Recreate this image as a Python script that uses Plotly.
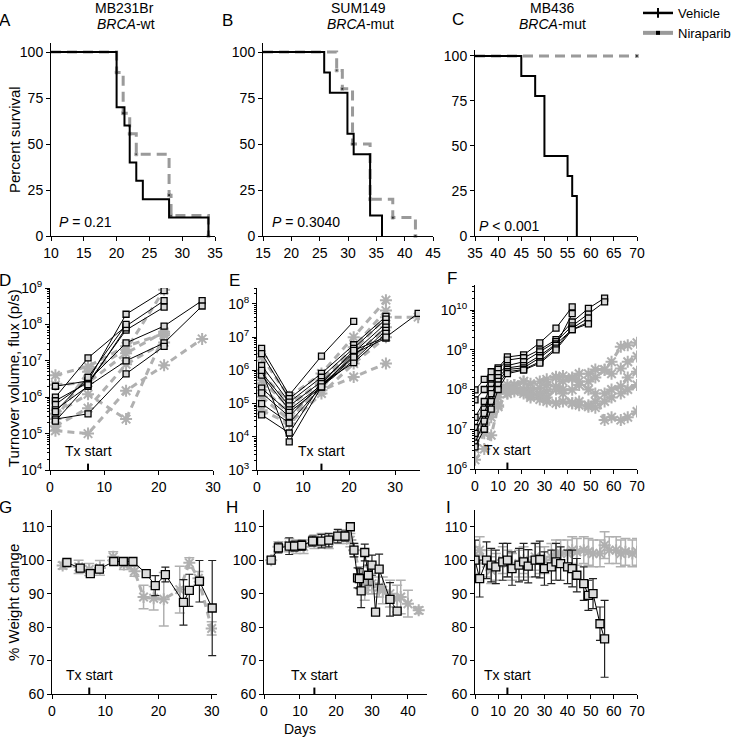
import plotly.graph_objects as go

FONT = "Liberation Sans, Arial, Helvetica, sans-serif"
W, H = 734, 737
GREY = "#9a9a9a"
GREY_L = "#b0b0b0"


def px(p):
    return p / W


def py(p):
    return 1 - p / H


# ---------------- tick labels ----------------
km_yticks = [0, 25, 50, 75, 100]
A_xticks = [10, 15, 20, 25, 30, 35]
B_xticks = [15, 20, 25, 30, 35, 40, 45]
C_xticks = [35, 40, 45, 50, 55, 60, 65, 70]
D_yticks = [1e4, 1e5, 1e6, 1e7, 1e8, 1e9]
D_ylabels = ["10<sup>4</sup>", "10<sup>5</sup>", "10<sup>6</sup>", "10<sup>7</sup>", "10<sup>8</sup>", "10<sup>9</sup>"]
E_yticks = [1e3, 1e4, 1e5, 1e6, 1e7, 1e8]
E_ylabels = ["10<sup>3</sup>", "10<sup>4</sup>", "10<sup>5</sup>", "10<sup>6</sup>", "10<sup>7</sup>", "10<sup>8</sup>"]
F_yticks = [1e6, 1e7, 1e8, 1e9, 1e10]
F_ylabels = ["10<sup>6</sup>", "10<sup>7</sup>", "10<sup>8</sup>", "10<sup>9</sup>", "10<sup>10</sup>"]
minor_mult = [2, 3, 4, 5, 6, 7, 8, 9]
D_xticks = [0, 10, 20, 30]
E_xticks = [0, 10, 20, 30]
F_xticks = [0, 10, 20, 30, 40, 50, 60, 70]
wt_yticks = [60, 70, 80, 90, 100, 110]
G_xticks = [0, 10, 20, 30]
H_xticks = [0, 10, 20, 30, 40]
I_xticks = [0, 10, 20, 30, 40, 50, 60, 70]

# ---------------- Kaplan-Meier survival ----------------
A_veh_days = [10, 20, 21.2, 22, 23, 24, 28, 34]
A_veh_surv = [100, 70, 60, 40, 30, 20, 10, 0]
A_nir_days = [10, 20, 21, 22, 23, 28, 28.3, 34]
A_nir_surv = [100, 88.9, 66.7, 55.6, 44.4, 22.2, 11.1, 0]

B_veh_days = [15, 25.8, 26.8, 29.9, 31, 33.9, 36]
B_veh_surv = [100, 88.9, 77.8, 55.6, 44.4, 11.1, 0]
B_nir_days = [15, 28, 29, 30.8, 33.9, 37.9, 41.9]
B_nir_surv = [100, 90, 80, 50, 20, 10, 0]

C_veh_days = [35, 45, 48, 50, 55, 56, 57]
C_veh_surv = [100, 88.9, 77.8, 44.4, 33.3, 22.2, 0]
C_nir_days = [35, 70]
C_nir_surv = [100, 100]

# ---------------- tumour flux (p/s) ----------------
D_veh_days = [1, 7, 14, 21, 28]
D_veh = [
    [2.0e6, 2.8e6, 1.9e8, 8.5e8],
    [1.0e6, 1.2e7, 9.0e7, 4.5e8],
    [8.0e5, 2.5e6, 7.0e7, 3.0e8],
    [6.3e5, 2.8e6, 3.1e7, 9.0e7, 4.5e8],
    [4.5e5, 2.0e6, 1.0e7, 3.1e7, 3.2e8],
    [2.5e5, 3.5e5, 4.4e6, 2.5e7],
    [2.2e5, 2.2e6, 8.0e7],
    [4.0e5, 3.5e6, 1.0e8],
]
D_nir = [
    [4.0e6, 7.0e6, 2.5e7, 5.6e7],
    [1.2e5, 1.0e5, 1.5e6, 7.5e6, 4.0e7],
    [3.5e5, 1.2e6, 2.5e5, 5.0e7],
    [2.5e5, 5.0e6, 2.0e7, 9.0e8],
    [2.2e6, 2.5e6, 1.6e7, 6.3e7],
    [1.6e5, 5.0e5, 8.0e6, 3.2e7],
]

E_days = [1, 7, 14, 21, 28, 35]
E_veh = [
    [4.6e6, 1.8e5, 2.7e6, 3.0e7],
    [3.2e6, 1.4e5, 8.1e5, 5.9e6, 4.2e7],
    [1.4e6, 1.1e5, 6.2e5, 4.6e6, 3.5e7],
    [8.5e5, 8.5e4, 4.6e5, 3.4e6, 2.6e7],
    [7.2e5, 6.5e4, 3.6e5, 2.7e6, 2.0e7],
    [2.9e5, 5.4e4, 3.2e5, 2.0e6, 1.6e7],
    [2.1e5, 4.1e4, 4.0e5, 1.7e6, 1.3e7],
    [1.0e5, 2.6e4, 3.2e5, 3.2e6, 9.3e6],
    [4.6e4, 1.3e4, 4.0e5, 4.0e6, 1.0e7, 5.2e7],
    [1.0e6, 7.0e3, 3.2e5, 2.5e6],
]
E_nir = [
    [2.5e6, 1.6e5, 8.0e5, 1.0e7, 1.3e8],
    [8.0e5, 1.0e5, 4.0e5, 4.0e6, 4.0e7, 4.0e7],
    [3.2e5, 5.0e4, 2.5e5, 6.3e5, 1.6e6],
    [1.6e5, 3.2e4, 3.2e5, 2.5e6, 2.0e7],
    [6.3e4, 2.5e4, 2.0e5, 1.6e6, 1.0e7],
    [5.0e5, 8.0e4, 5.0e5, 5.0e6, 6.3e7],
]

F_veh_days = [0, 4, 7, 10, 14, 21, 28, 35, 42, 49, 56]
F_veh = [
    [9.8e7, 1.8e8, 2.8e8, 3.5e8, 6.6e8, 7.4e8, 1.5e9, 3.5e9, 1.2e10],
    [5.5e7, 1.0e8, 2.0e8, 3.2e8, 5.5e8, 6.3e8, 1.0e9, 1.8e9, 5.0e9, 1.1e10, 2.0e10],
    [2.0e7, 5.0e7, 1.3e8, 2.5e8, 4.0e8, 5.0e8, 8.9e8, 1.6e9, 4.0e9, 7.9e9, 1.6e10],
    [1.1e7, 3.2e7, 1.0e8, 2.0e8, 3.5e8, 4.0e8, 7.1e8, 1.4e9, 3.2e9, 5.0e9],
    [7.9e6, 2.5e7, 7.9e7, 1.6e8, 3.2e8, 3.5e8, 6.3e8, 1.3e9, 8.1e9],
    [4.5e6, 1.6e7, 5.0e7, 1.3e8, 2.8e8, 3.2e8, 5.0e8, 1.1e9, 3.5e9, 6.3e9],
    [3.6e6, 1.0e7, 3.2e7, 1.0e8, 2.5e8, 3.1e8, 4.6e8, 1.0e9, 3.2e9, 4.5e9],
]
F_nir_days = [0, 4, 7, 10, 14, 17, 21, 24, 28, 31, 35, 38, 42, 45, 49, 52, 56, 59, 63, 66, 70]
F_nir = [
    [6.3e6, 2.0e7, 5.0e7, 7.9e7, 1.0e8, 1.3e8, 1.6e8, 1.4e8, 1.6e8, 1.8e8, 2.0e8, 2.2e8, 2.0e8, 2.5e8, 2.5e8, 3.2e8, 3.2e8, 5.0e8, 1.2e9, 1.3e9, 1.5e9],
    [1.0e7, 2.5e7, 6.3e7, 1.0e8, 1.3e8, 1.1e8, 1.0e8, 7.9e7, 7.2e7, 8.9e7, 1.2e8, 1.0e8, 9.8e7, 1.3e8, 1.6e8, 2.0e8, 3.1e8, 2.5e8, 3.4e8, 5.0e8, 6.8e8],
    [3.2e6, 7.9e6, 2.0e7, 4.0e7, 7.9e7, 8.9e7, 7.9e7, 6.3e7, 5.6e7, 5.0e7, 4.5e7, 5.0e7, 4.5e7, 4.0e7, 3.7e7, 5.0e7, 7.9e7, 1.0e8, 1.2e8, 2.0e8, 2.8e8],
    [4.0e6, 1.3e7, 4.0e7, 6.3e7, 1.1e8, 1.3e8, 1.6e8, 1.0e8, 1.1e8, 1.3e8, 2.1e8, 1.6e8, 1.9e8, 1.6e8, 1.0e8, 7.9e7, 1.7e7, 2.0e7, 1.7e7, 2.0e7, 2.8e7],
    [1.7e6, 3.2e6, 7.1e6, 3.7e7, 7.9e7, 1.0e8, 8.9e7, 7.1e7, 7.9e7, 6.3e7, 1.0e8, 7.9e7, 4.5e7, 5.0e7, 4.0e7, 3.5e7, 5.0e7, 6.3e7, 7.9e7, 1.0e8, 1.3e8],
]

# ---------------- % weight change ----------------
G_veh_days = [2.8, 5.3, 7.2, 8.9, 11.6, 13.4, 15.2, 17.7, 19.4, 21.3, 24.7, 25.8, 27.7, 30.1]
G_veh_vals = [99.3, 97.6, 96.0, 97.3, 99.6, 99.6, 99.6, 96.0, 92.4, 95.7, 87.4, 91.0, 93.7, 85.7]
G_veh_err = [0.8, 1.0, 0.8, 1.0, 1.0, 1.0, 0.8, 1.0, 3.0, 2.2, 6.8, 4.8, 6.2, 14.2]
G_nir_days = [2.0, 5.0, 7.0, 9.0, 11.5, 13.5, 15.5, 17.2, 19.1, 21.0, 24.0, 25.8, 27.5, 30.0]
G_nir_vals = [98.4, 98.0, 97.2, 97.7, 101.0, 98.7, 96.7, 89.0, 88.6, 88.3, 91.2, 99.2, 94.6, 79.6]
G_nir_err = [1.0, 2.0, 1.8, 2.2, 1.5, 1.5, 1.5, 3.5, 3.5, 8.0, 7.0, 1.5, 2.0, 2.0]

H_veh_days = [2, 4, 7, 8.5, 10.5, 13.5, 16, 18, 20.5, 22.5, 24, 25, 26, 26.5, 27, 28, 29, 30, 31, 32, 35, 37]
H_veh_vals = [100, 103.7, 104.2, 104.2, 104.4, 105.7, 105.7, 106, 107.2, 107.2, 110, 103, 94.7, 94.5, 90.8, 102.3, 95.5, 98.5, 84.5, 97.3, 88.3, 84.8]
H_veh_err = [0.5, 1.5, 2.5, 1.5, 1.5, 1.5, 2, 2, 2, 1.5, 1, 2, 3, 3, 5, 2.5, 3, 3, 1, 4.5, 5, 1]
H_nir_days = [2, 4, 7, 9, 11, 14, 16, 18, 21, 23, 24, 25, 27, 28, 29, 30, 32, 33, 35, 37, 38, 40, 43]
H_nir_vals = [100, 104, 104.5, 104, 104, 105.5, 106, 105.5, 107, 107, 106, 103, 95, 91, 93, 93, 92, 91, 90, 88.5, 89, 87, 85]
H_nir_err = [0.8, 1.5, 2, 2, 2, 2, 2, 2, 2, 2, 2, 2, 3, 3, 3, 3, 3, 4, 4, 4, 5, 4, 1]

I_veh_days = [0, 2, 5, 7, 9, 12, 14, 16, 19, 21, 23, 26, 28, 30, 33, 35, 37, 40, 42, 44, 47, 49, 51, 54, 56]
I_veh_vals = [100, 94.5, 100, 98.5, 98, 99.5, 100, 97.5, 98.5, 99.5, 98.2, 100, 100.2, 97.5, 98, 99.5, 99, 98, 97.5, 95.5, 93, 89.5, 90, 81, 76.5]
I_veh_err = [6, 5.5, 5.5, 5, 5, 5.5, 5, 5, 5, 5.5, 5, 5, 5.5, 5, 5, 5.5, 5, 5, 5.5, 5, 5, 4.5, 4.5, 5, 11.5]
I_nir_days = [0, 2, 5, 7, 9, 12, 14, 16, 19, 21, 23, 26, 28, 30, 33, 35, 37, 40, 42, 44, 47, 49, 51, 54, 56, 58, 61, 63, 65, 68, 70]
I_nir_vals = [100, 103, 99, 97, 98, 100, 99, 98, 99, 100, 99, 101, 100, 100, 101, 102, 102, 102, 103, 102.5, 103, 102.5, 102, 102, 104.5, 103, 103, 102, 102.5, 102, 102.5]
I_nir_err = [4, 4, 4, 4, 4, 4, 4, 4, 4, 4, 4, 4, 4, 4, 4, 4, 4, 4, 4, 4, 4, 4, 4, 4, 4, 4, 4, 4, 4, 4, 4]

# ---------------- layout geometry (pixels) ----------------
panels = [
    ("A", (51, 215), (43, 236), [10, 35], [0, 104.9], "linear", A_xticks, km_yticks, None),
    ("B", (263, 433), (43, 236), [15, 45], [0, 104.9], "linear", B_xticks, km_yticks, None),
    ("C", (475, 637), (50, 236), [35, 70], [0, 103.3], "linear", C_xticks, km_yticks, None),
    ("D", (50, 213), (288, 470), [0, 30], [4, 9], "log", D_xticks, D_yticks, D_ylabels),
    ("E", (257, 420), (288, 470), [0, 35.4], [3, 8.48], "log", E_xticks, E_yticks, E_ylabels),
    ("F", (475, 637), (285, 469), [0, 70], [6, 10.63], "log", F_xticks, F_yticks, F_ylabels),
    ("G", (52, 217), (510, 694), [0, 31], [60, 115], "linear", G_xticks, wt_yticks, None),
    ("H", (264, 427), (510, 694), [0, 45.3], [60, 115], "linear", H_xticks, wt_yticks, None),
    ("I", (475, 637), (510, 694), [0, 70], [60, 115], "linear", I_xticks, wt_yticks, None),
]

tickfont = dict(family=FONT, size=14, color="black")
layout = dict(
    width=W, height=H, margin=dict(l=0, r=0, t=0, b=0, autoexpand=False),
    paper_bgcolor="white", plot_bgcolor="white",
    font=dict(family=FONT, size=13, color="black"),
    showlegend=True,
)
axis_ids = {}
for i, (name, xp, yp, xr, yr, yt, xt, ytv, ytt) in enumerate(panels):
    n = "" if i == 0 else str(i + 1)
    axis_ids[name] = ("x" + n, "y" + n)
    common = dict(showline=True, linecolor="black", linewidth=1, ticks="outside", ticklen=4,
                  tickwidth=1, tickcolor="black", showgrid=False, zeroline=False,
                  tickfont=tickfont, fixedrange=True, automargin=False)
    layout["xaxis" + n] = dict(domain=[px(xp[0]), px(xp[1])], range=xr, tickvals=xt,
                               anchor="y" + n, **common)
    ya = dict(domain=[py(yp[1]), py(yp[0])], range=yr, type=yt, tickvals=ytv,
              anchor="x" + n, **common)
    if ytt is not None:
        ya["ticktext"] = ytt
        minor_vals = [m * t for t in ytv for m in minor_mult if m * t <= 10 ** yr[1]]
        ya["minor"] = dict(ticks="outside", ticklen=2, tickcolor="black", showgrid=False,
                           tickmode="array", tickvals=minor_vals)
    layout["yaxis" + n] = ya

fig = go.Figure(layout=layout)


def ax(name):
    xa, ya = axis_ids[name]
    return dict(xaxis=xa, yaxis=ya)


# ---- survival curves ----
for name, vd, vs, nd, ns in [("A", A_veh_days, A_veh_surv, A_nir_days, A_nir_surv),
                             ("B", B_veh_days, B_veh_surv, B_nir_days, B_nir_surv),
                             ("C", C_veh_days, C_veh_surv, C_nir_days, C_nir_surv)]:
    fig.add_trace(go.Scatter(x=nd, y=ns, mode="lines+markers", line_shape="hv",
                             line=dict(color=GREY, width=3, dash="10px,6px"),
                             marker=dict(symbol="square", size=[0] + [3] * (len(nd) - 1), color="black"),
                             showlegend=False, hoverinfo="skip", cliponaxis=False, **ax(name)))
    fig.add_trace(go.Scatter(x=vd, y=vs, mode="lines", line_shape="hv",
                             line=dict(color="black", width=2),
                             showlegend=False, hoverinfo="skip", **ax(name)))

# legend entries
fig.add_trace(go.Scatter(x=[None], y=[None], mode="lines+markers", name="Vehicle",
                         line=dict(color="black", width=2.5),
                         marker=dict(symbol="line-ns", size=7, line=dict(width=2, color="black")),
                         **ax("A")))
fig.add_trace(go.Scatter(x=[None], y=[None], mode="lines+markers", name="Niraparib",
                         line=dict(color=GREY, width=4),
                         marker=dict(symbol="square", size=4, color="black"),
                         **ax("A")))


# ---- flux panels ----
def flux(name, veh_days, veh, nir_days, nir):
    for m in nir:
        fig.add_trace(go.Scatter(x=nir_days[:len(m)], y=m, mode="lines+markers",
                                 line=dict(color=GREY_L, width=3, dash="7px,5px"),
                                 marker=dict(symbol="asterisk-open", size=10,
                                             line=dict(color=GREY, width=2)),
                                 showlegend=False, hoverinfo="skip", **ax(name)))
    for m in veh:
        fig.add_trace(go.Scatter(x=veh_days[:len(m)], y=m, mode="lines+markers",
                                 line=dict(color="black", width=1),
                                 marker=dict(symbol="square", size=6, color="#d9d9d9",
                                             line=dict(color="black", width=1.3)),
                                 showlegend=False, hoverinfo="skip", **ax(name)))


flux("D", D_veh_days, D_veh, D_veh_days, D_nir)
flux("E", E_days, E_veh, E_days, E_nir)
flux("F", F_veh_days, F_veh, F_nir_days, F_nir)


# ---- weight panels ----
def weight(name, vd, vv, ve, nd, nv, ne):
    fig.add_trace(go.Scatter(x=nd, y=nv, mode="lines+markers",
                             line=dict(color=GREY_L, width=3, dash="7px,5px"),
                             marker=dict(symbol="asterisk-open", size=10, line=dict(color=GREY_L, width=2)),
                             error_y=dict(type="data", array=ne, color=GREY_L, thickness=1.5, width=5),
                             showlegend=False, hoverinfo="skip", **ax(name)))
    fig.add_trace(go.Scatter(x=vd, y=vv, mode="lines+markers",
                             line=dict(color="black", width=1),
                             marker=dict(symbol="square", size=8, color="#dcdcdc",
                                         line=dict(color="black", width=1.3)),
                             error_y=dict(type="data", array=ve, color="#222222", thickness=1.2, width=4),
                             showlegend=False, hoverinfo="skip", **ax(name)))


weight("G", G_veh_days, G_veh_vals, G_veh_err, G_nir_days, G_nir_vals, G_nir_err)
weight("H", H_veh_days, H_veh_vals, H_veh_err, H_nir_days, H_nir_vals, H_nir_err)
weight("I", I_veh_days, I_veh_vals, I_veh_err, I_nir_days, I_nir_vals, I_nir_err)

# ---- annotations ----
ann = []
shapes = []


def text(x, y, s, size=14, xanchor="center", yanchor="middle", angle=0):
    ann.append(dict(x=px(x), y=py(y), xref="paper", yref="paper", text=s, showarrow=False,
                    xanchor=xanchor, yanchor=yanchor, textangle=angle,
                    font=dict(family=FONT, size=size, color="black")))


for letter, lx, ly in [("A", 5, 21), ("B", 227, 21), ("C", 458, 20), ("D", 5, 280), ("E", 234, 280),
                       ("F", 452, 278), ("G", 5, 507), ("H", 232, 507), ("I", 448, 507)]:
    text(lx, ly, letter, size=17)

text(124, 8, "MB231Br")
text(126, 24, "<i>BRCA</i>-wt")
text(358, 8, "SUM149")
text(360, 24, "<i>BRCA</i>-mut")
text(552, 8, "MB436")
text(552, 24, "<i>BRCA</i>-mut")

text(57, 222, "<i>P</i> = 0.21", xanchor="left")
text(270, 222, "<i>P</i> = 0.3040", xanchor="left")
text(477, 226, "<i>P</i> &lt; 0.001", xanchor="left")

text(14, 140, "Percent survival", size=15, angle=-90)
text(13, 378, "Turnover volume, flux (p/s)", size=15, angle=-90)
text(13, 603, "% Weight change", size=15, angle=-90)
text(300, 729, "Days")

for name, day in [("D", 7), ("E", 14), ("F", 14), ("G", 7), ("H", 14), ("I", 14)]:
    xa, ya = axis_ids[name]
    ann.append(dict(x=day, xref=xa, y=0.05, yref=ya + " domain", text="Tx start", showarrow=False,
                    xanchor="center", yanchor="bottom", font=dict(family=FONT, size=14, color="black")))
    shapes.append(dict(type="line", xref=xa, yref=ya + " domain", x0=day, x1=day, y0=0, y1=0.035,
                       line=dict(color="black", width=2)))

fig.update_layout(annotations=ann, shapes=shapes,
                  legend=dict(x=px(638), y=py(-2), xanchor="left", yanchor="top",
                              font=dict(family=FONT, size=13, color="black"),
                              bgcolor="rgba(0,0,0,0)", itemwidth=30, tracegroupgap=2))

# remove the default 8px page margin so the 734x737 figure fills the window exactly
fig.write_html("out.html", config={"displayModeBar": False, "staticPlot": True},
               post_script="document.body.style.margin='0px';document.body.style.overflow='hidden';")
